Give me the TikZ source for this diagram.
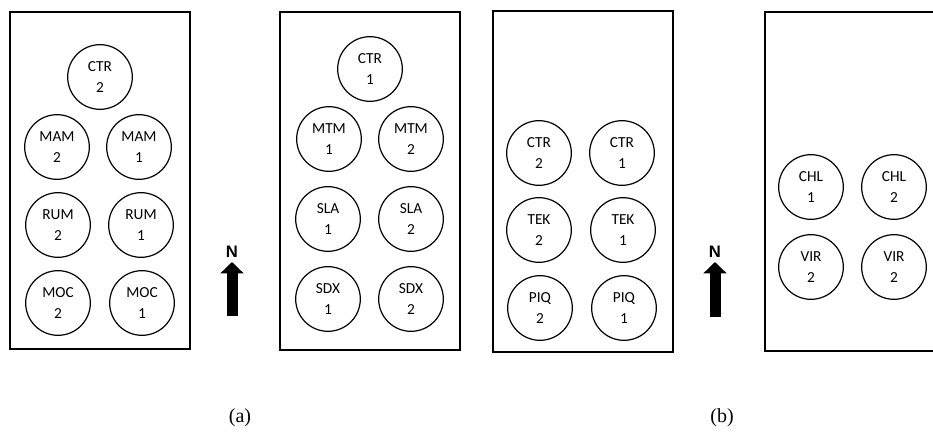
\documentclass[tikz,border=0pt]{standalone}
\usepackage{fontspec}
\setmainfont{Liberation Serif}
\newfontfamily\plotfont{Carlito}
\newfontfamily\northfont{Liberation Sans}
\usetikzlibrary{arrows.meta}

\begin{document}
\begin{tikzpicture}[x=0.75pt,y=-0.75pt,
  plot/.style={draw,circle,line width=0.9pt,minimum size=48.5pt,inner sep=0pt,
    align=center,font=\plotfont\fontsize{11.5}{15.5}\selectfont},
  field/.style={line width=1pt},
  northlbl/.style={inner sep=0pt,font=\northfont\bfseries\fontsize{12.5}{14}\selectfont},
  northarrow/.style={line width=8.25pt,-{Triangle[width=17pt,length=8.5pt]},shorten >=3pt},
  panel/.style={font=\fontsize{15}{17}\selectfont}]
\useasboundingbox (0,0) rectangle (933,432);

% field (a), left block
\draw[field] (10,12) rectangle (190,349);
\node[plot] (ctrA) at (100,77) {CTR\\2};
\node[plot] (mamB) at (57,147) {MAM\\2};
\node[plot] (mamA) at (139,147) {MAM\\1};
\node[plot] (rumB) at (58,225) {RUM\\2};
\node[plot] (rumA) at (141,225) {RUM\\1};
\node[plot] (mocB) at (58,303) {MOC\\2};
\node[plot] (mocA) at (142,303) {MOC\\1};

% north arrow (a)
\node[northlbl] (nA) at (232,252) {N};
\coordinate (nfootA) at (232,316);
\draw[northarrow] (nfootA) -- (nA.south);

% field (a), right block
\draw[field] (280,12) rectangle (460,350);
\node[plot] (ctrC) at (370,69) {CTR\\1};
\node[plot] (mtmA) at (329,139) {MTM\\1};
\node[plot] (mtmB) at (411,139) {MTM\\2};
\node[plot] (slaA) at (328,219) {SLA\\1};
\node[plot] (slaB) at (411,219) {SLA\\2};
\node[plot] (sdxA) at (328,299) {SDX\\1};
\node[plot] (sdxB) at (411,299) {SDX\\2};

% field (b), left block
\draw[field] (493,11) rectangle (673,352);
\node[plot] (ctrD) at (539,153) {CTR\\2};
\node[plot] (ctrE) at (622,153) {CTR\\1};
\node[plot] (tekB) at (539,230) {TEK\\2};
\node[plot] (tekA) at (623,230) {TEK\\1};
\node[plot] (piqB) at (540,308) {PIQ\\2};
\node[plot] (piqA) at (624,308) {PIQ\\1};

% north arrow (b)
\node[northlbl] (nB) at (715,252) {N};
\coordinate (nfootB) at (715,317);
\draw[northarrow] (nfootB) -- (nB.south);

% field (b), right block (cut at the edge)
\draw[field] (933,12) -- (765,12) -- (765,351) -- (933,351);
\node[plot] (chlA) at (811,187) {CHL\\1};
\node[plot] (chlB) at (894,187) {CHL\\2};
\node[plot] (virA) at (811,267) {VIR\\2};
\node[plot] (virB) at (894,267) {VIR\\2};

\node[panel] (lblA) at (240,418) {(a)};
\node[panel] (lblB) at (722,418) {(b)};
\end{tikzpicture}
\end{document}
